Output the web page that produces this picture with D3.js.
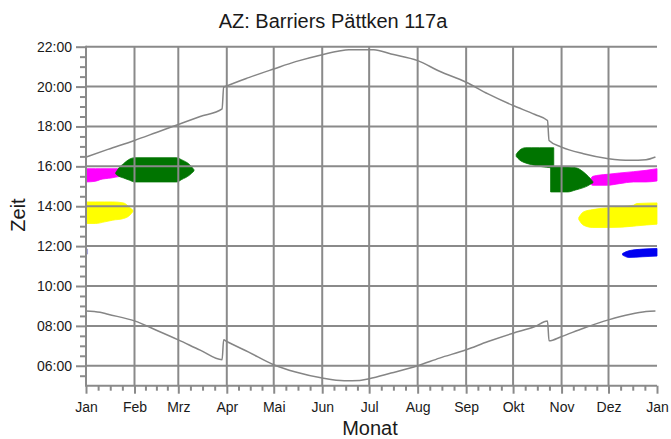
<!DOCTYPE html>
<html>
<head>
<meta charset="utf-8">
<script src="https://cdn.jsdelivr.net/npm/d3@7"></script>
<style>
  body { margin: 0; background: #fff; }
  svg { display: block; }
  text { font-family: "Liberation Sans", Arial, sans-serif; fill: #1a1a1a; }
</style>
</head>
<body>
<svg id="chart" width="671" height="439"></svg>
<script>
// Axis labels
const titleText = "AZ: Barriers Pättken 117a";
const xTitle = "Monat";
const yTitle = "Zeit";
const monthLabels = ["Jan", "Feb", "Mrz", "Apr", "Mai", "Jun", "Jul", "Aug", "Sep", "Okt", "Nov", "Dez", "Jan"];
const hourLabels = ["06:00", "08:00", "10:00", "12:00", "14:00", "16:00", "18:00", "20:00", "22:00"];

// Sunset (upper) and sunrise (lower) curves: [date, local time]
const sunset = [
  ["2021-01-01", "16:28"], ["2021-01-15", "16:51"], ["2021-02-01", "17:18"], ["2021-02-15", "17:42"],
  ["2021-03-01", "18:06"], ["2021-03-15", "18:30"], ["2021-03-29", "18:53"], ["2021-03-30", "19:58"],
  ["2021-04-01", "20:02"], ["2021-04-15", "20:27"], ["2021-05-01", "20:53"], ["2021-05-15", "21:15"],
  ["2021-06-01", "21:36"], ["2021-06-11", "21:46"], ["2021-06-18", "21:51"], ["2021-07-04", "21:51"],
  ["2021-07-15", "21:38"], ["2021-08-01", "21:18"], ["2021-08-15", "20:46"], ["2021-09-01", "20:13"],
  ["2021-09-15", "19:38"], ["2021-10-01", "19:03"], ["2021-10-15", "18:36"], ["2021-10-23", "18:18"],
  ["2021-10-24", "17:18"], ["2021-11-01", "16:58"], ["2021-11-15", "16:38"], ["2021-12-01", "16:23"],
  ["2021-12-15", "16:18"], ["2021-12-25", "16:20"], ["2021-12-31", "16:28"]
];
const sunrise = [
  ["2021-01-01", "08:45"], ["2021-01-10", "08:41"], ["2021-01-15", "08:35"], ["2021-02-01", "08:15"],
  ["2021-02-15", "07:47"], ["2021-03-01", "07:18"], ["2021-03-15", "06:47"], ["2021-03-29", "06:18"],
  ["2021-03-30", "07:18"], ["2021-04-01", "07:13"], ["2021-04-15", "06:41"], ["2021-05-01", "06:03"],
  ["2021-05-15", "05:41"], ["2021-06-01", "05:23"], ["2021-06-15", "05:15"], ["2021-06-25", "05:16"],
  ["2021-07-01", "05:21"], ["2021-07-15", "05:38"], ["2021-08-01", "06:00"], ["2021-08-15", "06:23"],
  ["2021-09-01", "06:48"], ["2021-09-15", "07:13"], ["2021-10-01", "07:38"], ["2021-10-15", "07:58"],
  ["2021-10-23", "08:15"], ["2021-10-24", "07:15"], ["2021-11-01", "07:28"], ["2021-11-15", "07:53"],
  ["2021-12-01", "08:18"], ["2021-12-15", "08:35"], ["2021-12-25", "08:43"], ["2021-12-31", "08:45"]
];

// Shadow periods: [date, shadow begins, shadow ends]
const magentaJan = [
  ["2021-01-01", "15:13", "15:53"], ["2021-01-07", "15:15", "15:53"], ["2021-01-10", "15:20", "15:53"],
  ["2021-01-17", "15:25", "15:53"], ["2021-01-23", "15:30", "15:53"]
];
const greenFeb = [
  ["2021-01-20", "15:37", "15:41"], ["2021-01-22", "15:30", "15:55"], ["2021-01-25", "15:25", "16:08"],
  ["2021-01-29", "15:18", "16:22"], ["2021-02-01", "15:13", "16:26"], ["2021-02-28", "15:13", "16:26"],
  ["2021-03-03", "15:20", "16:20"], ["2021-03-08", "15:33", "16:06"], ["2021-03-11", "15:46", "15:50"]
];
const yellowJan = [
  ["2021-01-01", "13:08", "14:13"], ["2021-01-07", "13:08", "14:13"], ["2021-01-13", "13:13", "14:13"],
  ["2021-01-18", "13:18", "14:13"], ["2021-01-25", "13:23", "14:10"], ["2021-01-29", "13:33", "13:56"],
  ["2021-01-31", "13:44", "13:48"]
];
const greenOctUpper = [
  ["2021-10-03", "16:30", "16:36"], ["2021-10-05", "16:20", "16:48"], ["2021-10-09", "16:10", "16:56"],
  ["2021-10-13", "16:05", "16:56"], ["2021-10-18", "16:00", "16:56"], ["2021-10-27", "15:55", "16:56"]
];
const greenOctLower = [
  ["2021-10-25", "14:43", "15:58"], ["2021-11-05", "14:43", "15:58"], ["2021-11-10", "14:49", "15:56"],
  ["2021-11-15", "14:56", "15:43"], ["2021-11-18", "15:02", "15:30"], ["2021-11-20", "15:08", "15:20"],
  ["2021-11-21", "15:10", "15:14"]
];
const magentaDec = [
  ["2021-11-20", "15:05", "15:25"], ["2021-11-21", "15:03", "15:30"], ["2021-11-30", "15:03", "15:36"],
  ["2021-12-08", "15:08", "15:40"], ["2021-12-17", "15:13", "15:44"], ["2021-12-25", "15:13", "15:48"],
  ["2022-01-01", "15:16", "15:53"]
];
const yellowDec = [
  ["2021-11-12", "13:20", "13:26"], ["2021-11-15", "13:03", "13:43"], ["2021-11-21", "12:56", "13:50"],
  ["2021-12-02", "12:56", "13:56"], ["2021-12-17", "13:00", "14:03"], ["2021-12-19", "13:01", "14:08"],
  ["2022-01-01", "13:06", "14:10"]
];
const blueDec = [
  ["2021-12-10", "11:33", "11:38"], ["2021-12-14", "11:26", "11:46"], ["2021-12-23", "11:28", "11:51"],
  ["2022-01-01", "11:30", "11:53"]
];
const blueJan = [
  ["2021-01-01", "11:36", "11:51"], ["2021-01-02", "11:36", "11:51"]
];

const shadows = [
  { rows: magentaJan, color: "#ff00ff" },
  { rows: magentaDec, color: "#ff00ff" },
  { rows: yellowJan, color: "#ffff00" },
  { rows: yellowDec, color: "#ffff00" },
  { rows: blueDec, color: "#0000f0" },
  { rows: blueJan, color: "#9a9ad8" },
  { rows: greenFeb, color: "#007400" },
  { rows: greenOctUpper, color: "#007400" },
  { rows: greenOctLower, color: "#007400" }
];

const parseDate = d3.timeParse("%Y-%m-%d");
const hours = s => { const [h, m] = s.split(":").map(Number); return h + m / 60; };

const svg = d3.select("#chart");
const x = d3.scaleTime().domain([new Date(2021, 0, 1), new Date(2022, 0, 1)]).range([86, 657]);
const y = d3.scaleLinear().domain([5, 22]).range([385.7, 46.7]);
const [x0, x1] = x.range();
const [yBottom, yTop] = y.range();

const monthStarts = d3.timeMonth.range(new Date(2021, 0, 1), new Date(2022, 0, 2));
const hourValues = hourLabels.map(hours);
const gridColor = "#8a8a8a";

// Shadow areas
const area = d3.area()
  .x(r => x(parseDate(r[0])))
  .y0(r => y(hours(r[1])))
  .y1(r => y(hours(r[2])))
  .curve(d3.curveMonotoneX);
svg.append("g").selectAll("path").data(shadows).join("path")
  .attr("d", s => area(s.rows))
  .attr("fill", s => s.color)
  .attr("stroke", s => s.color)
  .attr("stroke-width", 0.8);

// Grid
const grid = svg.append("g").attr("stroke", gridColor).attr("stroke-width", 2);
grid.selectAll(".v").data(monthStarts.slice(0, 12)).join("line")
  .attr("x1", d => x(d)).attr("x2", d => x(d))
  .attr("y1", yTop).attr("y2", yBottom);
grid.selectAll(".h").data(hourValues).join("line")
  .attr("x1", x0).attr("x2", x1)
  .attr("y1", d => y(d)).attr("y2", d => y(d));

// Sunrise / sunset curves
const line = d3.line()
  .x(r => x(parseDate(r[0])))
  .y(r => y(hours(r[1])))
  .curve(d3.curveMonotoneX);
svg.append("g").selectAll("path").data([sunset, sunrise]).join("path")
  .attr("d", line)
  .attr("fill", "none")
  .attr("stroke", "#858585")
  .attr("stroke-width", 1.5);

// Axes
function styleAxis(g) {
  g.select(".domain").remove();
  g.selectAll(".tick line").attr("stroke", gridColor).attr("stroke-width", 2);
  g.selectAll(".tick text").attr("font-size", 14).attr("fill", "#1a1a1a");
}

const minorHours = d3.range(5.5, 22, 0.5).filter(h => h % 2 !== 0);
svg.append("g").attr("transform", `translate(${x0},0)`)
  .call(d3.axisLeft(y).tickValues(minorHours).tickSize(6).tickFormat(""))
  .call(styleAxis);
svg.append("g").attr("transform", `translate(${x0},0)`)
  .call(d3.axisLeft(y).tickValues(hourValues).tickSize(10).tickPadding(4)
    .tickFormat((d, i) => hourLabels[i]))
  .call(styleAxis);

const minorDays = [];
monthStarts.slice(0, 12).forEach(m => {
  const next = d3.timeMonth.offset(m, 1);
  for (let k = 1; k < 4; k++) minorDays.push(new Date(+m + (next - m) * k / 4));
});
svg.append("g").attr("transform", `translate(0,${yBottom})`)
  .call(d3.axisBottom(x).tickValues(minorDays).tickSize(5).tickFormat(""))
  .call(styleAxis);
svg.append("g").attr("transform", `translate(0,${yBottom})`)
  .call(d3.axisBottom(x).tickValues(monthStarts).tickSize(8).tickPadding(8)
    .tickFormat((d, i) => monthLabels[i]))
  .call(styleAxis);

// Axis lines
svg.append("line").attr("x1", x0).attr("x2", x0).attr("y1", yTop - 1).attr("y2", yBottom + 1)
  .attr("stroke", gridColor).attr("stroke-width", 2);
svg.append("line").attr("x1", x0).attr("x2", x1).attr("y1", yBottom).attr("y2", yBottom)
  .attr("stroke", gridColor).attr("stroke-width", 2);

// Titles
svg.append("text").attr("x", 333).attr("y", 28).attr("text-anchor", "middle")
  .attr("font-size", 20).text(titleText);
svg.append("text").attr("x", 370).attr("y", 435).attr("text-anchor", "middle")
  .attr("font-size", 20).text(xTitle);
svg.append("text").attr("transform", "translate(25,215) rotate(-90)").attr("text-anchor", "middle")
  .attr("font-size", 20).text(yTitle);
</script>
</body>
</html>
